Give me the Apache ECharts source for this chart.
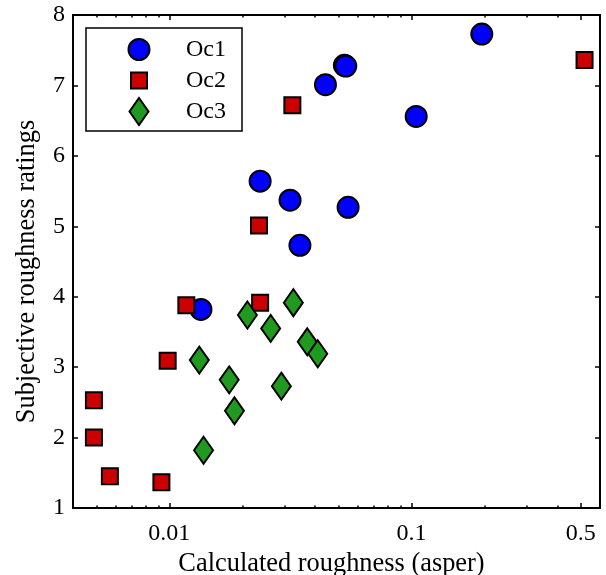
<!DOCTYPE html>
<html>
<head>
<meta charset="utf-8">
<script src="https://cdn.jsdelivr.net/npm/echarts@6/dist/echarts.min.js"></script>
<style>
  html, body { margin: 0; padding: 0; background: #fff; }
  #chart { width: 606px; height: 575px; }
</style>
</head>
<body>
<div id="chart"></div>
<script>
// [calculated roughness (asper), subjective rating]
const oc1 = [
  [0.0135, 3.82], [0.0237, 5.64], [0.0315, 5.37], [0.0346, 4.73], [0.0441, 7.01],
  [0.0528, 7.285], [0.0535, 7.275], [0.0547, 5.27], [0.1045, 6.56], [0.195, 7.73]
];
const oc2 = [
  [0.00488, 2.53], [0.00488, 2.00], [0.00568, 1.45], [0.00927, 1.365], [0.00984, 3.09],
  [0.01175, 3.88], [0.0237, 3.915], [0.02345, 5.01], [0.0322, 6.72], [0.518, 7.36]
];
const oc3 = [
  [0.01329, 3.10], [0.01384, 1.82], [0.01766, 2.82], [0.01857, 2.38], [0.021, 3.74],
  [0.0262, 3.55], [0.029, 2.73], [0.0325, 3.915], [0.0371, 3.36], [0.041, 3.19]
];

const xMajorTicks = [0.01, 0.1, 0.5];
const xMinorTicks = [0.005, 0.006, 0.007, 0.008, 0.009,
  0.02, 0.03, 0.04, 0.05, 0.06, 0.07, 0.08, 0.09, 0.2, 0.3, 0.4];
const xRange = [0.004, 0.6];
const yRange = [1, 8];

const font = '"Liberation Serif", "Times New Roman", serif';
const black = '#000';

function xAxisDef(position, ticks, tickLen, major) {
  return {
    type: 'log',
    position: position,
    min: xRange[0],
    max: xRange[1],
    axisLine: { show: major, lineStyle: { color: black, width: 2 } },
    axisTick: { inside: true, length: tickLen, customValues: ticks, lineStyle: { color: black, width: 1.5 } },
    axisLabel: {
      show: major && position === 'bottom',
      customValues: ticks,
      formatter: v => String(+v.toPrecision(6)),
      margin: 14,
      color: black,
      fontFamily: font,
      fontSize: 24
    },
    splitLine: { show: false },
    minorTick: { show: false }
  };
}

const bottomAxis = xAxisDef('bottom', xMajorTicks, 5, true);
bottomAxis.name = 'Calculated roughness (asper)';
bottomAxis.nameLocation = 'middle';
bottomAxis.nameGap = 41;
bottomAxis.nameTextStyle = { color: black, fontFamily: font, fontSize: 26.4, padding: [0, 10, 0, 0] };

function yAxisDef(position, labels) {
  return {
    type: 'value',
    position: position,
    min: yRange[0],
    max: yRange[1],
    interval: 1,
    axisLine: { show: true, lineStyle: { color: black, width: 2 } },
    axisTick: { inside: true, length: 5, lineStyle: { color: black, width: 1.5 } },
    axisLabel: { show: labels, margin: 8, color: black, fontFamily: font, fontSize: 24 },
    splitLine: { show: false }
  };
}

const leftAxis = yAxisDef('left', true);
leftAxis.name = 'Subjective roughness ratings';
leftAxis.nameLocation = 'middle';
leftAxis.nameGap = 33;
leftAxis.nameTextStyle = { color: black, fontFamily: font, fontSize: 26.4, padding: [0, 20, 0, 0] };

function legendDef(name, w, h, rowY) {
  const boxH = Math.max(h + 2, 24);
  return {
    data: [name],
    orient: 'vertical',
    left: 139 - w / 2 - 1,
    top: rowY - boxH / 2,
    padding: 0,
    itemWidth: w,
    itemHeight: h,
    selectedMode: false,
    textStyle: {
      color: black, fontFamily: font, fontSize: 24,
      padding: [0, 0, 0, 186 - (139 + w / 2 + 5)]
    }
  };
}

const chart = echarts.init(document.getElementById('chart'), null, { renderer: 'canvas' });
chart.setOption({
  animation: false,
  backgroundColor: '#fff',
  grid: { left: 73, right: 6, top: 15, bottom: 67, containLabel: false, outerBoundsMode: 'none' },
  xAxis: [
    bottomAxis,
    xAxisDef('bottom', xMinorTicks, 2.5, false),
    xAxisDef('top', xMajorTicks, 5, true),
    xAxisDef('top', xMinorTicks, 2.5, false)
  ],
  yAxis: [leftAxis, yAxisDef('right', false)],
  graphic: [{
    type: 'rect',
    z: 3,
    shape: { x: 86, y: 28, width: 156, height: 103 },
    style: { fill: '#fff', stroke: black, lineWidth: 1.5 }
  }],
  legend: [
    legendDef('Oc1', 21, 21, 49.5),
    legendDef('Oc2', 16, 16, 80.5),
    legendDef('Oc3', 19, 27, 111.5)
  ],
  series: [
    {
      name: 'Oc1', type: 'scatter', data: oc1, symbol: 'circle', symbolSize: 21,
      itemStyle: { color: '#0000ff', borderColor: black, borderWidth: 2, opacity: 1 }
    },
    {
      name: 'Oc2', type: 'scatter', data: oc2, symbol: 'rect', symbolSize: 16,
      itemStyle: { color: '#cc0000', borderColor: black, borderWidth: 2, opacity: 1 }
    },
    {
      name: 'Oc3', type: 'scatter', data: oc3, symbol: 'diamond', symbolSize: [19, 27],
      itemStyle: { color: '#1f9a1f', borderColor: black, borderWidth: 2, opacity: 1 }
    }
  ]
});
</script>
</body>
</html>
